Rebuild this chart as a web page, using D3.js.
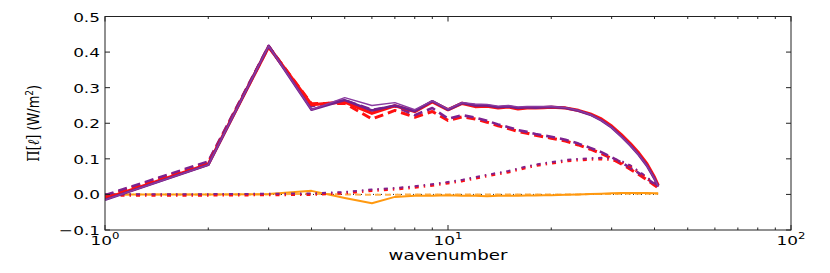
<!DOCTYPE html>
<html>
<head>
<meta charset="utf-8">
<script src="https://cdn.jsdelivr.net/npm/d3@7"></script>
<style>
  body { margin: 0; background: #fff; }
  svg text { font-family: "DejaVu Sans", sans-serif; fill: #000; }
</style>
</head>
<body>
<div id="chart"></div>
<script>
// wavenumbers
var kVals = [1,2,3,4,5,6,7,8,9,10,11,12,13,14,15,16,17,18,19,20,22,24,26,28,30,32,34,36,38,40,41];

// series values (W/m^2)
var redSolid = [-0.012,0.085,0.415,0.252,0.26,0.228,0.249,0.233,0.26,0.238,0.256,0.247,0.248,0.243,0.246,0.24,0.243,0.243,0.244,0.245,0.243,0.236,0.226,0.212,0.192,0.168,0.143,0.116,0.086,0.048,0.025];
var purpleSolid = [-0.015,0.083,0.417,0.238,0.265,0.236,0.25,0.234,0.262,0.238,0.257,0.25,0.25,0.245,0.247,0.243,0.245,0.244,0.245,0.246,0.243,0.235,0.224,0.208,0.188,0.163,0.138,0.111,0.081,0.044,0.022];
var purpleThin = [-0.015,0.083,0.417,0.238,0.272,0.25,0.258,0.238,0.263,0.24,0.258,0.254,0.253,0.248,0.25,0.246,0.247,0.247,0.247,0.247,0.244,0.236,0.224,0.208,0.188,0.163,0.138,0.111,0.081,0.044,0.022];
var redDashed = [-0.005,0.09,0.415,0.255,0.256,0.212,0.236,0.217,0.233,0.208,0.218,0.212,0.203,0.193,0.185,0.177,0.172,0.166,0.162,0.158,0.15,0.139,0.127,0.115,0.101,0.086,0.071,0.056,0.041,0.026,0.018];
var purpleDashed = [-0.005,0.09,0.415,0.245,0.262,0.235,0.245,0.22,0.24,0.21,0.22,0.213,0.204,0.194,0.186,0.178,0.173,0.167,0.163,0.159,0.151,0.14,0.128,0.116,0.102,0.087,0.072,0.057,0.042,0.026,0.018];
var dashDot = [-0.002,-0.002,-0.001,0.0,0.004,0.011,0.015,0.02,0.026,0.032,0.038,0.046,0.052,0.058,0.063,0.07,0.076,0.081,0.085,0.088,0.094,0.097,0.099,0.1,0.098,0.091,0.079,0.062,0.046,0.028,0.02];
var orangeSolid = [0.0,0.0,0.001,0.01,-0.01,-0.025,-0.007,-0.004,-0.004,-0.002,-0.004,-0.004,-0.005,-0.004,-0.004,-0.004,-0.003,-0.003,-0.002,-0.002,-0.001,0.0,0.001,0.002,0.003,0.004,0.004,0.004,0.004,0.003,0.003];
var orangeDashed = [0.0,0.0,0.0,0.002,0.0,-0.001,-0.001,0.0,0.0,0.0,0.0,0.0,0.0,0.0,0.0,0.0,0.0,0.0,0.0,0.0,0.0,0.0,0.001,0.001,0.001,0.002,0.002,0.002,0.002,0.002,0.002];
var blackDotted = [0,0,0,0,0,0,0,0,0,0,0,0,0,0,0,0,0,0,0,0,0,0,0,0,0,0,0,0,0,0,0];

var yTicks = [-0.1,0.0,0.1,0.2,0.3,0.4,0.5];
var yTickLabels = ["\u22120.1","0.0","0.1","0.2","0.3","0.4","0.5"];
var xTicks = [1,10,100];
var xTickExp = ["0","1","2"];

var W = 830, H = 273;
var margin = {top: 16.5, right: 39, bottom: 43, left: 105};
var w = W - margin.left - margin.right,
    h = H - margin.top - margin.bottom;

var svg = d3.select("#chart").append("svg")
    .attr("width", W)
    .attr("height", H);

var g = svg.append("g")
    .attr("transform", "translate(" + margin.left + "," + margin.top + ")");

var x = d3.scaleLog().domain([1, 100]).range([0, w]);
var y = d3.scaleLinear().domain([-0.1, 0.5]).range([h, 0]);

g.append("clipPath").attr("id", "clip")
    .append("rect").attr("width", w).attr("height", h);

var plot = g.append("g").attr("clip-path", "url(#clip)");

function addLine(vals, color, width, dash, dy) {
    var line = d3.line()
        .x(function(d, i) { return x(kVals[i]); })
        .y(function(d) { return y(d) + (dy || 0); });
    plot.append("path")
        .datum(vals)
        .attr("fill", "none")
        .attr("stroke", color)
        .attr("stroke-width", width)
        .attr("stroke-linejoin", "round")
        .attr("stroke-dasharray", dash || null)
        .attr("d", line);
}

// draw order roughly as in the figure
addLine(blackDotted, "#222", 1, "1,3");
addLine(orangeDashed, "#ffb24d", 2, "6,4");
addLine(orangeSolid, "#ff9910", 2);
addLine(redDashed, "#ff1010", 3, "9,5");
addLine(purpleDashed, "#7d2290", 2.6, "9,5", -1);
addLine(dashDot, "#ff1010", 3, "4,5,1.5,5");
addLine(dashDot, "#7d2290", 2, "4,5,1.5,5", -1);
addLine(redSolid, "#ff1010", 3.2);
addLine(purpleSolid, "#72208c", 2.6);
addLine(purpleThin, "#8a3aa0", 1.4);

// frame
g.append("rect")
    .attr("width", w).attr("height", h)
    .attr("fill", "none")
    .attr("stroke", "#222")
    .attr("stroke-width", 1);

// x ticks: major and minor, inward on bottom and top
var minor = [];
[1, 10].forEach(function(dec) {
    for (var m = 2; m <= 9; m++) minor.push(dec * m);
});
xTicks.forEach(function(t) {
    g.append("line").attr("x1", x(t)).attr("x2", x(t)).attr("y1", h).attr("y2", h - 5).attr("stroke", "#222");
    g.append("line").attr("x1", x(t)).attr("x2", x(t)).attr("y1", 0).attr("y2", 5).attr("stroke", "#222");
});
minor.forEach(function(t) {
    g.append("line").attr("x1", x(t)).attr("x2", x(t)).attr("y1", h).attr("y2", h - 2.5).attr("stroke", "#222");
    g.append("line").attr("x1", x(t)).attr("x2", x(t)).attr("y1", 0).attr("y2", 2.5).attr("stroke", "#222");
});

// y ticks inward on left and right
yTicks.forEach(function(t) {
    g.append("line").attr("x1", 0).attr("x2", 5).attr("y1", y(t)).attr("y2", y(t)).attr("stroke", "#222");
    g.append("line").attr("x1", w).attr("x2", w - 5).attr("y1", y(t)).attr("y2", y(t)).attr("stroke", "#222");
});

// y tick labels (stretched like the original)
yTicks.forEach(function(t, i) {
    g.append("text")
        .attr("transform", "translate(-5," + (y(t) + 5) + ") scale(1.3,1)")
        .attr("text-anchor", "end")
        .style("font-size", "13px")
        .text(yTickLabels[i]);
});

// x tick labels 10^n
xTicks.forEach(function(t, i) {
    var lab = g.append("text")
        .attr("transform", "translate(" + x(t) + "," + (h + 15) + ") scale(1.3,1)")
        .attr("text-anchor", "middle")
        .style("font-size", "13px");
    lab.append("tspan").text("10");
    lab.append("tspan").attr("dy", -6).style("font-size", "9px").text(xTickExp[i]);
});

// axis titles
g.append("text")
    .attr("transform", "translate(" + (w / 2) + "," + (h + 30) + ") scale(1.3,1)")
    .attr("text-anchor", "middle")
    .style("font-size", "14px")
    .text("wavenumber");

var yl = g.append("text")
    .attr("transform", "translate(-66," + (h / 2) + ") rotate(-90) scale(1,1.25)")
    .attr("text-anchor", "middle")
    .style("font-size", "13px");
yl.append("tspan").style("font-family", "DejaVu Serif").text("\u03a0[");
yl.append("tspan").style("font-family", "DejaVu Serif").style("font-style", "italic").text("\u2113");
yl.append("tspan").style("font-family", "DejaVu Serif").text("]");
yl.append("tspan").text(" (W/m");
yl.append("tspan").attr("dy", -5).style("font-size", "9px").text("2");
yl.append("tspan").attr("dy", 5).text(")");
</script>
</body>
</html>
